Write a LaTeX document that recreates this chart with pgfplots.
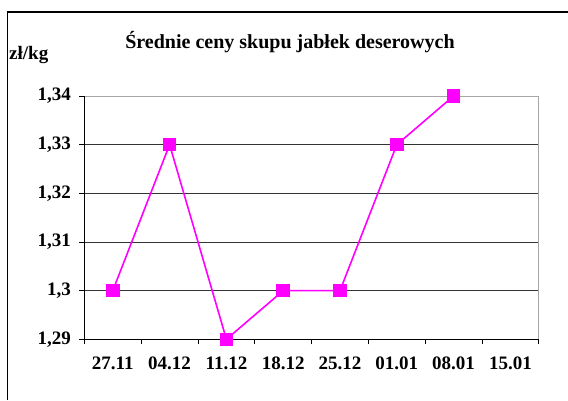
\documentclass[border=0pt]{standalone}
\usepackage{fontspec}
\setmainfont{Liberation Serif}
\usepackage{pgfplots}
\pgfplotsset{compat=1.18}
\definecolor{mag}{RGB}{255,0,255}
\begin{document}
\begin{tikzpicture}[x=1pt,y=1pt]
\path[use as bounding box] (0,0) rectangle (568,400);
\draw[line width=1.2pt] (7.2,0) -- (7.2,388) -- (568,388);
\begin{axis}[
  at={(84.4pt,60.7pt)}, anchor=south west,
  scale only axis, width=454.4pt, height=243.3pt,
  xmin=-0.5, xmax=7.5, ymin=1.29, ymax=1.34,
  axis line style={gray!70, line width=1pt},
  xtick={-0.5,0.5,...,7.5}, xticklabels={},
  extra x ticks={0,1,...,7},
  extra x tick labels={27.11,04.12,11.12,18.12,25.12,01.01,08.01,15.01},
  extra x tick style={major tick length=0pt, tick label style={yshift=-14pt}},
  ytick={1.29,1.30,1.31,1.32,1.33,1.34},
  yticklabels={{1,29},{1,3},{1,31},{1,32},{1,33},{1,34}},
  tick align=outside, major tick length=5pt,
  tick style={black, line width=0.8pt},
  xtick pos=bottom, ytick pos=left,
  ymajorgrids, grid style={black!80, line width=0.9pt},
  tick label style={font=\fontsize{19}{22}\bfseries\selectfont},
  yticklabel style={xshift=-5pt},
  clip=false,
]
\addplot[mag, line width=1.6pt, mark=square*, mark size=6pt, mark options={solid, fill=mag}]
  coordinates {(0,1.30) (1,1.33) (2,1.29) (3,1.30) (4,1.30) (5,1.33) (6,1.34)};
\draw[black, line width=1.1pt] (rel axis cs:0,1) -- (rel axis cs:0,0) -- (rel axis cs:1,0);
\end{axis}
\node[font=\fontsize{20}{23}\bfseries\selectfont] at (290,358.3) {Średnie ceny skupu jabłek deserowych};
\node[font=\fontsize{19}{22}\bfseries\selectfont, anchor=west, inner sep=0pt] at (9,345) {zł/kg};
\end{tikzpicture}
\end{document}
